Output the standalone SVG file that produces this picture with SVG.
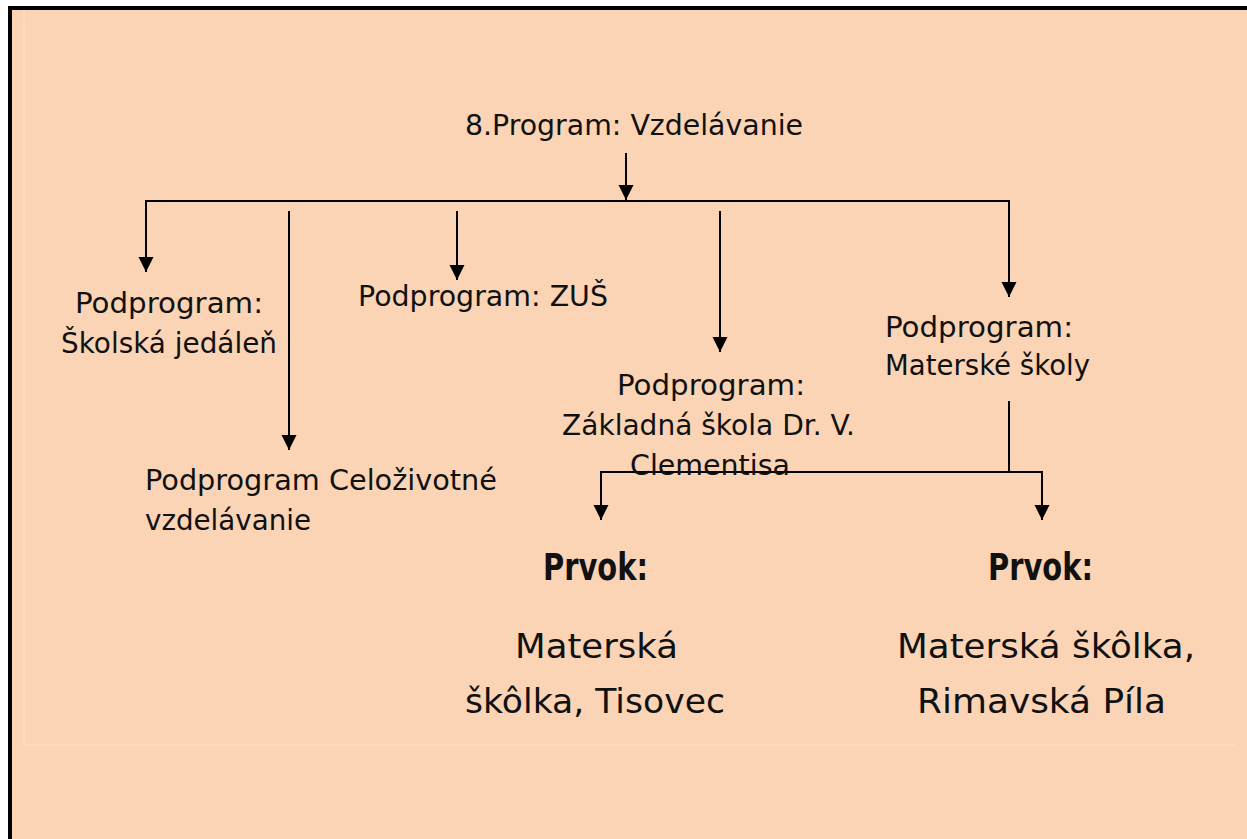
<svg xmlns="http://www.w3.org/2000/svg" width="1247" height="839" viewBox="0 0 1247 839">
<style>
.t{font-family:"DejaVu Sans","Liberation Sans",sans-serif;font-size:29px;fill:#111}
.b{font-family:"DejaVu Sans","Liberation Sans",sans-serif;font-size:37px;font-weight:bold;fill:#111}
.big{font-family:"DejaVu Sans","Liberation Sans",sans-serif;font-size:34px;fill:#111}
.c{fill:none;stroke:#000;stroke-width:2}
</style>
<defs>
<marker id="ah" markerUnits="userSpaceOnUse" markerWidth="16" markerHeight="16" refX="15" refY="7.5" orient="auto">
<path d="M0,0 L15,7.5 L0,15 z" fill="#000"/>
</marker>
</defs>
<rect x="0" y="0" width="1247" height="839" fill="#fff"/>
<rect x="12" y="10" width="1235" height="829" fill="#FAD4B5"/>
<path d="M24,10 V745 H1235" fill="none" stroke="#FCDDC5" stroke-width="1.5"/>
<rect x="8" y="6" width="1239" height="4" fill="#000"/>
<rect x="8" y="6" width="4" height="833" fill="#000"/>
<g id="connectors">
<path class="c" d="M626,153 V200" marker-end="url(#ah)"/>
<path class="c" d="M146,272 V201 H1009 V297" marker-end="url(#ah)"/>
<path class="c" d="M146,201 V272" marker-end="url(#ah)"/>
<path class="c" d="M289,211 V450" marker-end="url(#ah)"/>
<path class="c" d="M457,211 V280" marker-end="url(#ah)"/>
<path class="c" d="M720,211 V352" marker-end="url(#ah)"/>
<path class="c" d="M1009,401 V472 H601 V520" marker-end="url(#ah)"/>
<path class="c" d="M1009,472 H1042 V520" marker-end="url(#ah)"/>
</g>
<g id="program"><text class="t" x="465" y="135" font-size="30" textLength="338" lengthAdjust="spacingAndGlyphs">8.Program: Vzdelávanie</text></g>
<g id="jedalen">
<text class="t" x="75" y="313" textLength="188" lengthAdjust="spacingAndGlyphs">Podprogram:</text>
<text class="t" x="61" y="353" textLength="216" lengthAdjust="spacingAndGlyphs">Školská jedáleň</text>
</g>
<g id="celozivotne">
<text class="t" x="145" y="490" textLength="352" lengthAdjust="spacingAndGlyphs">Podprogram Celoživotné</text>
<text class="t" x="145" y="530" textLength="166" lengthAdjust="spacingAndGlyphs">vzdelávanie</text>
</g>
<g id="zus"><text class="t" x="358" y="306" textLength="250" lengthAdjust="spacingAndGlyphs">Podprogram: ZUŠ</text></g>
<g id="zakladna">
<text class="t" x="617" y="395" textLength="188" lengthAdjust="spacingAndGlyphs">Podprogram:</text>
<text class="t" x="562" y="435" textLength="293" lengthAdjust="spacingAndGlyphs">Základná škola Dr. V.</text>
<text class="t" x="630" y="475" textLength="160" lengthAdjust="spacingAndGlyphs">Clementisa</text>
</g>
<g id="materske">
<text class="t" x="885" y="337" textLength="188" lengthAdjust="spacingAndGlyphs">Podprogram:</text>
<text class="t" x="885" y="375" textLength="205" lengthAdjust="spacingAndGlyphs">Materské školy</text>
</g>
<g id="tisovec">
<text class="b" x="543" y="580" textLength="105" lengthAdjust="spacingAndGlyphs">Prvok:</text>
<text class="big" x="515" y="658" textLength="163" lengthAdjust="spacingAndGlyphs">Materská</text>
<text class="big" x="465" y="713" textLength="260" lengthAdjust="spacingAndGlyphs">škôlka, Tisovec</text>
</g>
<g id="rimavska">
<text class="b" x="988" y="580" textLength="105" lengthAdjust="spacingAndGlyphs">Prvok:</text>
<text class="big" x="897" y="658" textLength="298" lengthAdjust="spacingAndGlyphs">Materská škôlka,</text>
<text class="big" x="917" y="713" textLength="249" lengthAdjust="spacingAndGlyphs">Rimavská Píla</text>
</g>
</svg>
